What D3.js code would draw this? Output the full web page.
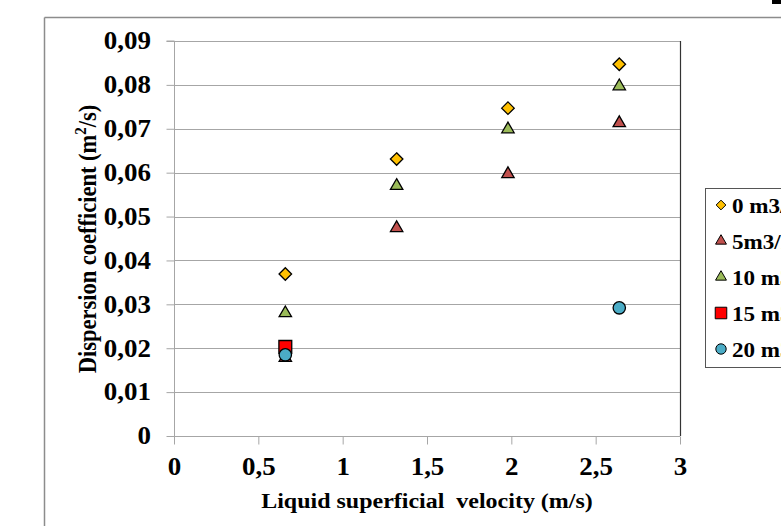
<!DOCTYPE html>
<html><head><meta charset="utf-8">
<script src="https://cdn.jsdelivr.net/npm/d3@7"></script>
<style>body{margin:0;background:#fff;}svg{display:block;}</style>
</head><body>
<svg id="c" width="781" height="526"></svg>
<script>
const xValues = [0.66, 1.32, 1.98, 2.64];
const s0 = [0.0369, 0.0631, 0.0747, 0.0847];
const s5 = [0.0178, 0.0474, 0.0597, 0.0713];
const s10 = [0.0280, 0.0570, 0.0699, 0.0797];
const s15x = [0.66];
const s15 = [0.0203];
const s20x = [0.66, 2.64];
const s20 = [0.0185, 0.0292];
const seriesNames = ["0 m3/h", "5m3/h", "10 m3/h", "15 m3/h", "20 m3/h"];
const xTicks = [0, 0.5, 1, 1.5, 2, 2.5, 3];
const yTicks = [0, 0.01, 0.02, 0.03, 0.04, 0.05, 0.06, 0.07, 0.08, 0.09];

const svg = d3.select("#c");
const font = "'Liberation Serif','Times New Roman',serif";
const SX = 1.1; // horizontal stretch of the original picture's text
const L = 174, R = 680, T = 41, B = 436;
const x = d3.scaleLinear().domain([0, 3]).range([L, R]);
const y = d3.scaleLinear().domain([0, 0.09]).range([B, T]);
const fmt = d => String(d).replace(".", ",");

// outer frame
svg.append("line").attr("x1", 44.5).attr("x2", 781).attr("y1", 17.5).attr("y2", 17.5).attr("stroke", "#8c8c8c").attr("stroke-width", 1.5);
svg.append("line").attr("x1", 44.5).attr("x2", 44.5).attr("y1", 17.5).attr("y2", 526).attr("stroke", "#8c8c8c").attr("stroke-width", 1.5);
svg.append("rect").attr("x", 772).attr("y", 0).attr("width", 9).attr("height", 4).attr("fill", "#000");

// gridlines
svg.append("g").selectAll("line").data(yTicks.slice(1)).join("line")
  .attr("x1", L).attr("x2", R).attr("y1", d => Math.round(y(d)) + 0.5).attr("y2", d => Math.round(y(d)) + 0.5)
  .attr("stroke", "#a6a6a6").attr("stroke-width", 1);

// right border
svg.append("line").attr("x1", R + 0.5).attr("x2", R + 0.5).attr("y1", T).attr("y2", B).attr("stroke", "#333").attr("stroke-width", 1.2);

// axes
const yAxis = d3.axisLeft(y).tickValues(yTicks).tickSize(8).tickFormat(fmt);
const gy = svg.append("g").attr("transform", `translate(${L + 0.5},0)`).call(yAxis);
const xAxis = d3.axisBottom(x).tickValues(xTicks).tickSize(8).tickPadding(13).tickFormat(fmt);
const gx = svg.append("g").attr("transform", `translate(0,${B + 0.5})`).call(xAxis);
[gx, gy].forEach(g => {
  g.selectAll(".tick line").attr("stroke", "#a6a6a6");
  g.selectAll(".tick text").attr("font-family", font).attr("font-weight", "bold").attr("font-size", 24.5)
    .attr("fill", "#000").attr("transform", `scale(${SX},1)`);
});
gy.selectAll(".tick text").attr("x", -21.5);
gy.select(".domain").attr("stroke", "#a6a6a6").attr("d", `M-8,${T}H0V${B}`);
gx.select(".domain").attr("stroke", "#a6a6a6").attr("d", `M${L},0H${R}`);

// titles
svg.append("text").attr("transform", `translate(427,508) scale(${SX},1)`).attr("text-anchor", "middle")
  .attr("font-family", font).attr("font-weight", "bold").attr("font-size", 21.8)
  .style("white-space", "pre").text("Liquid superficial  velocity (m/s)");
const yt = svg.append("text").attr("transform", `translate(96,239) rotate(-90) scale(1,${SX})`).attr("text-anchor", "middle")
  .attr("font-family", font).attr("font-weight", "bold").attr("font-size", 22.5);
yt.append("tspan").text("Dispersion coefficient (m");
yt.append("tspan").attr("dy", -9).attr("font-size", 15).text("2");
yt.append("tspan").attr("dy", 9).text("/s)");

// symbols
const sym = {
  diamond: d3.symbol().type(d3.symbolDiamond2).size(100),
  tri: d3.symbol().type(d3.symbolTriangle2).size(110),
  square: d3.symbol().type(d3.symbolSquare2).size(210),
  circle: d3.symbol().type(d3.symbolCircle).size(120)
};
const styles = [
  {name: seriesNames[0], xs: xValues, ys: s0, s: sym.diamond, fill: "#FFC000"},
  {name: seriesNames[1], xs: xValues, ys: s5, s: sym.tri, fill: "#C0504D"},
  {name: seriesNames[2], xs: xValues, ys: s10, s: sym.tri, fill: "#9BBB59"},
  {name: seriesNames[3], xs: s15x, ys: s15, s: sym.square, fill: "#FF0000"},
  {name: seriesNames[4], xs: s20x, ys: s20, s: sym.circle, fill: "#4BACC6"}
];
styles.forEach(st => {
  svg.append("g").selectAll("path").data(st.xs.map((v, i) => [v, st.ys[i]])).join("path")
    .attr("d", st.s()).attr("transform", d => `translate(${x(d[0])},${y(d[1])})`)
    .attr("fill", st.fill).attr("stroke", "#000").attr("stroke-width", 1.3);
});

// legend
svg.append("rect").attr("x", 705.5).attr("y", 188.5).attr("width", 90).attr("height", 179)
  .attr("fill", "#fff").attr("stroke", "#555").attr("stroke-width", 1);
const legY = [205, 241, 277, 313, 349];
const lsym = [
  d3.symbol().type(d3.symbolDiamond2).size(60),
  d3.symbol().type(d3.symbolTriangle2).size(85),
  d3.symbol().type(d3.symbolTriangle2).size(85),
  d3.symbol().type(d3.symbolSquare2).size(170),
  d3.symbol().type(d3.symbolCircle).size(85)
];
styles.forEach((st, i) => {
  svg.append("path").attr("d", lsym[i]()).attr("transform", `translate(721,${legY[i]})`)
    .attr("fill", st.fill).attr("stroke", "#000").attr("stroke-width", 1);
  svg.append("text").attr("transform", `translate(732,${legY[i] + 8}) scale(${SX},1)`).attr("font-family", font)
    .attr("font-weight", "bold").attr("font-size", 21).text(st.name);
});
</script>
</body></html>
